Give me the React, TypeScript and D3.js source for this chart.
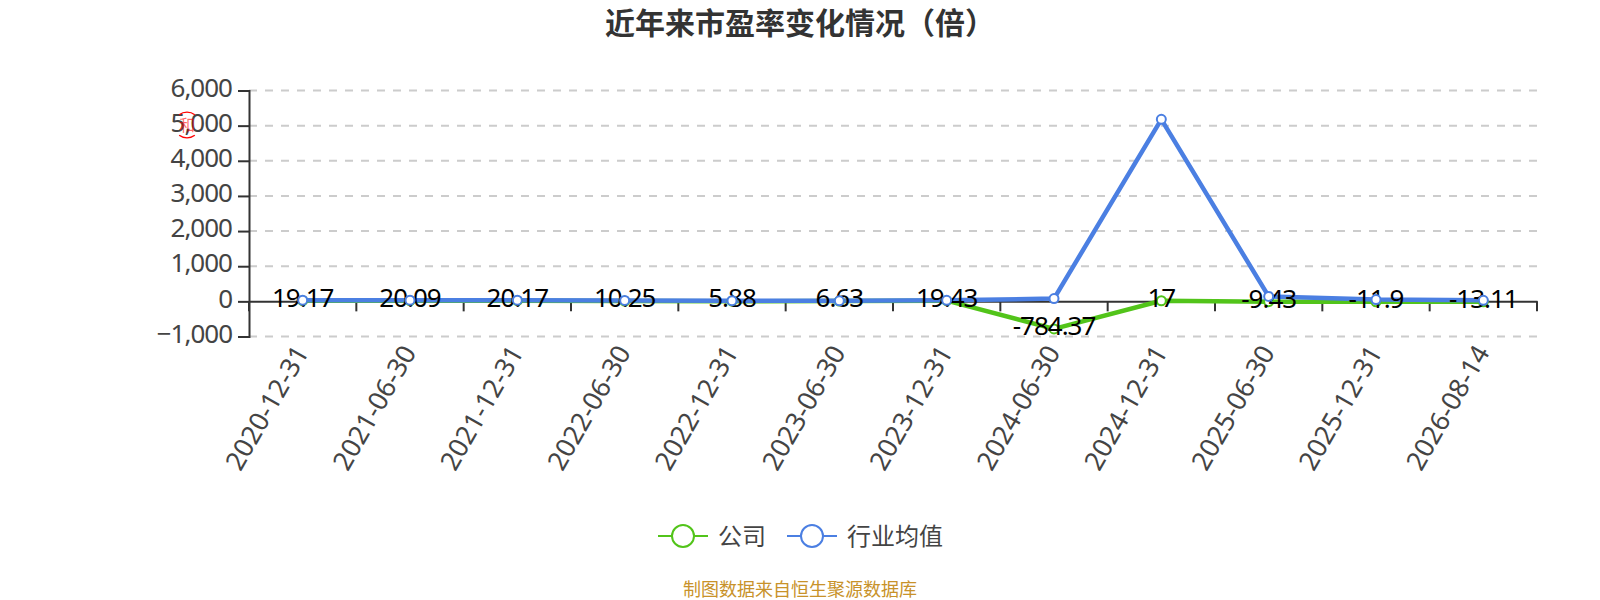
import React, { useEffect, useRef } from "react";
import * as d3 from "d3";

const dates = [
  "2020-12-31", "2021-06-30", "2021-12-31", "2022-06-30", "2022-12-31", "2023-06-30",
  "2023-12-31", "2024-06-30", "2024-12-31", "2025-06-30", "2025-12-31", "2026-08-14",
];
const company = [19.17, 20.09, 20.17, 10.25, 5.88, 6.63, 19.43, -784.37, 17, -9.43, -11.9, -13.11];
const industry = [35, 32, 35, 25, 18, 15, 28, 80, 5179, 140, 50, 30];
const yTicks = [-1000, 0, 1000, 2000, 3000, 4000, 5000, 6000];
const legendNames = ["公司", "行业均值"];

const GREEN = "#52c41a";
const BLUE = "#4b7fe2";
const FONT = "'Noto Sans', 'Noto Sans CJK SC', sans-serif";
const CJK = "'Noto Sans CJK SC', sans-serif";

const margin = { top: 90.5, right: 63, bottom: 263.5, left: 249 };
const width = 1600;
const height = 600;

const App: React.FC = () => {
  const svgRef = useRef<SVGSVGElement>(null);

  useEffect(() => {
    const svg = d3.select(svgRef.current);
    svg.selectAll("*").remove();

    // scales
    const x = d3.scaleBand<string>().domain(dates).range([margin.left, width - margin.right]);
    const y = d3.scaleLinear().domain([-1000, 6000]).range([height - margin.bottom, margin.top]);
    const cx = (i: number) => (x(dates[i]) as number) + x.bandwidth() / 2;

    // title
    svg.append("text")
      .attr("x", 800).attr("y", 34)
      .attr("text-anchor", "middle")
      .attr("font-family", CJK).attr("font-size", 30).attr("font-weight", 700)
      .attr("fill", "#333")
      .text("近年来市盈率变化情况（倍）");

    // grid
    svg.append("g").selectAll("line")
      .data(yTicks.filter(d => d !== 0))
      .join("line")
      .attr("x1", margin.left).attr("x2", width - margin.right)
      .attr("y1", d => y(d)).attr("y2", d => y(d))
      .attr("stroke", "#ccc").attr("stroke-width", 2).attr("stroke-dasharray", "8 8");

    // y axis
    const yAxis = d3.axisLeft(y).tickValues(yTicks).tickFormat(d3.format(",")).tickSize(11).tickPadding(6);
    const yG = svg.append("g").attr("transform", `translate(${margin.left},0)`).call(yAxis as any);
    yG.selectAll("line, path").attr("stroke", "#333").attr("stroke-width", 2);
    yG.selectAll("text")
      .attr("fill", "#444").attr("font-size", 26).attr("letter-spacing", -1).attr("font-family", FONT)
      .attr("dy", "0.22em");

    // x axis
    const xAxis = d3.axisBottom(x).tickSize(0).tickPadding(0);
    const xG = svg.append("g").attr("transform", `translate(0,${y(0)})`).call(xAxis as any);
    xG.select("path").attr("stroke", "#333").attr("stroke-width", 2);
    xG.selectAll("text")
      .attr("fill", "#444").attr("font-size", 26.5).attr("font-family", FONT)
      .attr("text-anchor", "end")
      .attr("dy", 0)
      .attr("transform", "translate(7,51) rotate(-60)");
    xG.selectAll("g.boundary")
      .data(d3.range(dates.length + 1))
      .join("line")
      .attr("x1", d => margin.left + d * x.step()).attr("x2", d => margin.left + d * x.step())
      .attr("y1", 0).attr("y2", 10)
      .attr("stroke", "#333").attr("stroke-width", 2);

    // lines
    const line = d3.line<number>().x((_, i) => cx(i)).y(d => y(d));
    const drawLine = (values: number[], color: string) =>
      svg.append("path").datum(values)
        .attr("fill", "none").attr("stroke", color).attr("stroke-width", 4.5)
        .attr("stroke-linejoin", "round").attr("d", line);
    const drawDots = (values: number[], color: string) =>
      svg.append("g").selectAll("circle").data(values).join("circle")
        .attr("cx", (_, i) => cx(i)).attr("cy", d => y(d)).attr("r", 4.5)
        .attr("fill", "#fff").attr("stroke", color).attr("stroke-width", 2);

    drawLine(company, GREEN);
    drawLine(industry, BLUE);
    drawDots(company, GREEN);

    // value labels
    svg.append("g").selectAll("text").data(company).join("text")
      .attr("x", (_, i) => cx(i)).attr("y", d => y(d) + 6)
      .attr("text-anchor", "middle")
      .attr("font-family", FONT).attr("font-size", 26).attr("letter-spacing", -1).attr("fill", "#000")
      .text(d => String(d));

    drawDots(industry, BLUE);

    // legend
    const legendX = [683, 812];
    const legendColors = [GREEN, BLUE];
    legendNames.forEach((name, i) => {
      const g = svg.append("g").attr("transform", `translate(${legendX[i]},536)`);
      g.append("line").attr("x1", -25).attr("x2", 25)
        .attr("stroke", legendColors[i]).attr("stroke-width", 2);
      g.append("circle").attr("r", 11).attr("fill", "#fff")
        .attr("stroke", legendColors[i]).attr("stroke-width", 2);
      g.append("text").attr("x", 35).attr("y", 9)
        .attr("font-family", CJK).attr("font-size", 24).attr("fill", "#444")
        .text(name);
    });

    // source note
    svg.append("text")
      .attr("x", 800).attr("y", 596)
      .attr("text-anchor", "middle")
      .attr("font-family", CJK).attr("font-size", 18).attr("fill", "#c8922a")
      .text("制图数据来自恒生聚源数据库");

    // red stamp over the 5,000 label
    const stamp = svg.append("g").attr("transform", "translate(187,125)");
    const arc = d3.arc<any>().innerRadius(12.2).outerRadius(13.6);
    [[-0.65, 0.65], [Math.PI - 0.65, Math.PI + 0.65]].forEach(([a, b]) =>
      stamp.append("path").attr("fill", "#f00").attr("d", arc({ startAngle: a, endAngle: b }) as string));
    stamp.append("text")
      .attr("text-anchor", "middle").attr("y", 6)
      .attr("font-family", CJK).attr("font-size", 16).attr("fill", "#f00").attr("fill-opacity", 0.6)
      .text("和");
  }, []);

  return (
    <svg
      ref={svgRef}
      width={width}
      height={height}
      viewBox={`0 0 ${width} ${height}`}
      style={{ position: "absolute", left: 0, top: 0, background: "#fff" }}
    />
  );
};

export default App;
